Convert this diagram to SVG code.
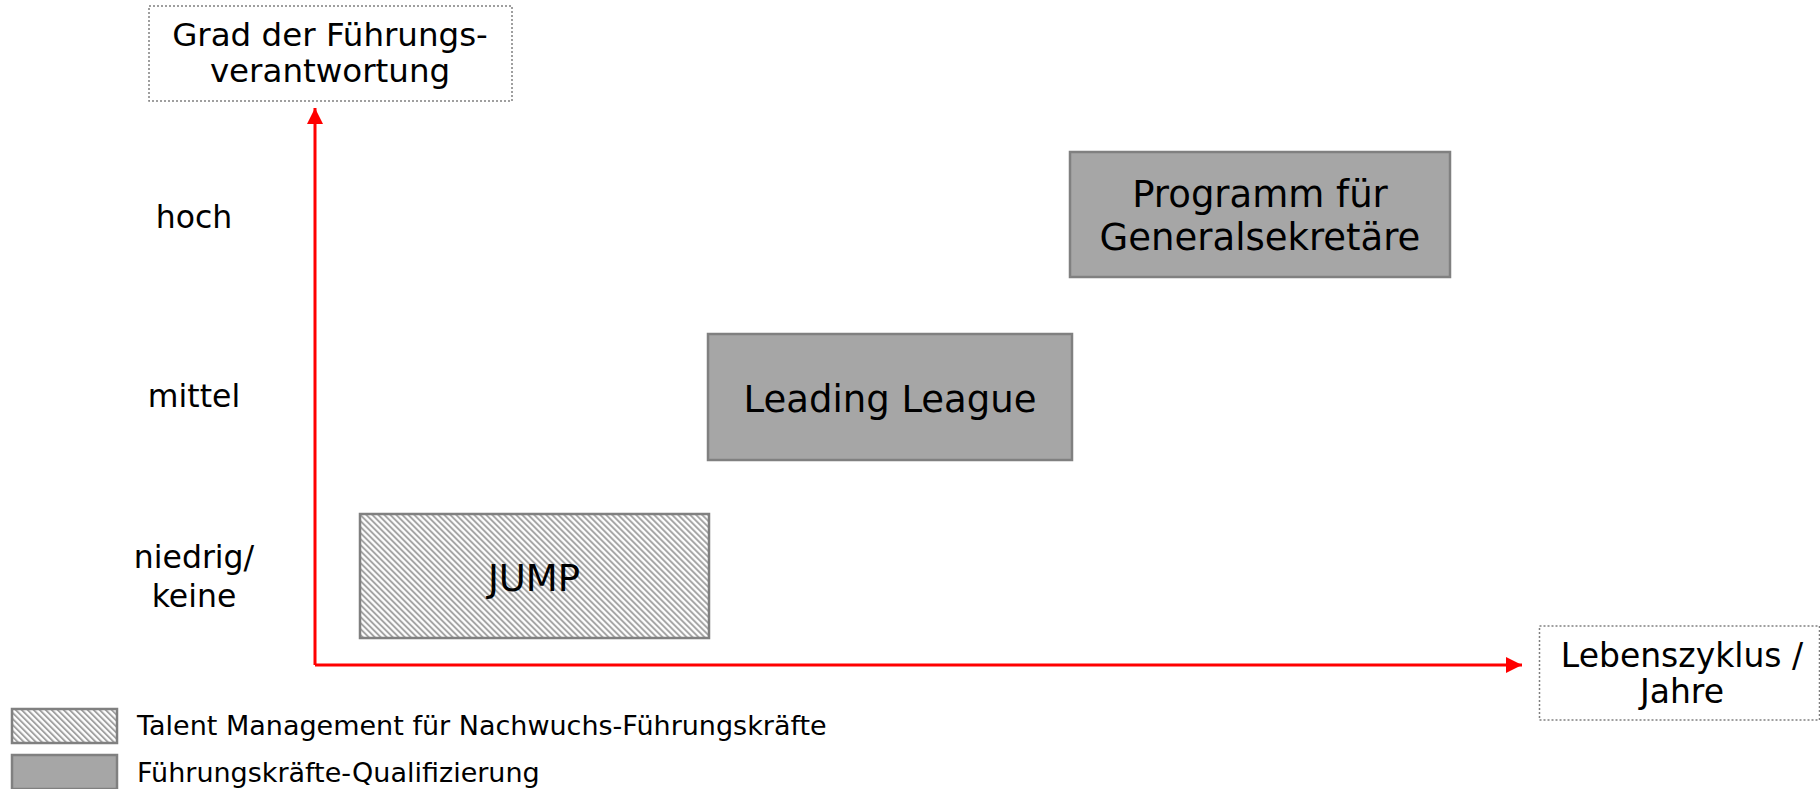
<svg xmlns="http://www.w3.org/2000/svg" width="1820" height="789" viewBox="0 0 1820 789">
<style>
text{font-family:"DejaVu Sans","Verdana",sans-serif;fill:#000;text-anchor:middle}
.lbl{font-size:31.5px}
.ttl{font-size:32.5px}
.big{font-size:37px}
.leg{font-size:27px;text-anchor:start}
.dot{fill:#fff;stroke:#808080;stroke-width:1.5;stroke-dasharray:2 2}
.box{fill:#a6a6a6;stroke:#808080;stroke-width:2.5}
.hatch{fill:url(#hatch);stroke:#808080;stroke-width:2.5}
.axis{stroke:#ff0000;stroke-width:3;fill:none}
</style>
<defs>
<pattern id="hatch" patternUnits="userSpaceOnUse" width="4.24" height="4.24" patternTransform="rotate(-45)">
<rect width="4.24" height="4.24" fill="#ffffff"/>
<line x1="1" y1="0" x2="1" y2="4.24" stroke="#a0a0a0" stroke-width="1.9"/>
</pattern>
<marker id="arr" markerUnits="userSpaceOnUse" markerWidth="18" markerHeight="18" refX="16" refY="8" orient="auto">
<path d="M0,0 L16,8 L0,16 Z" fill="#ff0000"/>
</marker>
</defs>
<g id="connectors">
<path class="axis" d="M315,665 L315,108" marker-end="url(#arr)"/>
<path class="axis" d="M315,665 L1522,665" marker-end="url(#arr)"/>
</g>
<g id="y-axis-title">
<rect class="dot" x="149" y="6" width="363" height="95"/>
<text class="ttl" x="330" y="46">Grad der Führungs-</text>
<text class="ttl" x="330" y="82">verantwortung</text>
</g>
<g id="x-axis-title">
<rect class="dot" x="1539.5" y="626" width="280" height="94"/>
<text class="ttl" x="1682" y="667" style="font-size:33px">Lebenszyklus /</text>
<text class="ttl" x="1682" y="703" style="font-size:33px">Jahre</text>
</g>
<g id="level-hoch"><text class="lbl" x="194" y="228">hoch</text></g>
<g id="level-mittel"><text class="lbl" x="194" y="407">mittel</text></g>
<g id="level-niedrig">
<text class="lbl" x="194" y="568">niedrig/</text>
<text class="lbl" x="194" y="607">keine</text>
</g>
<g id="node-jump">
<rect class="hatch" x="360" y="514" width="349" height="124"/>
<text class="big" x="534" y="591">JUMP</text>
</g>
<g id="node-leading-league">
<rect class="box" x="708" y="334" width="364" height="126"/>
<text class="big" x="890" y="412">Leading League</text>
</g>
<g id="node-programm">
<rect class="box" x="1070" y="152" width="380" height="125"/>
<text class="big" x="1260" y="207">Programm für</text>
<text class="big" x="1260" y="250">Generalsekretäre</text>
</g>
<g id="legend">
<rect class="hatch" x="12" y="709" width="105" height="34"/>
<text class="leg" x="137" y="735">Talent Management für Nachwuchs-Führungskräfte</text>
<rect class="box" x="12" y="755" width="105" height="34"/>
<text class="leg" x="137" y="782">Führungskräfte-Qualifizierung</text>
</g>
</svg>
